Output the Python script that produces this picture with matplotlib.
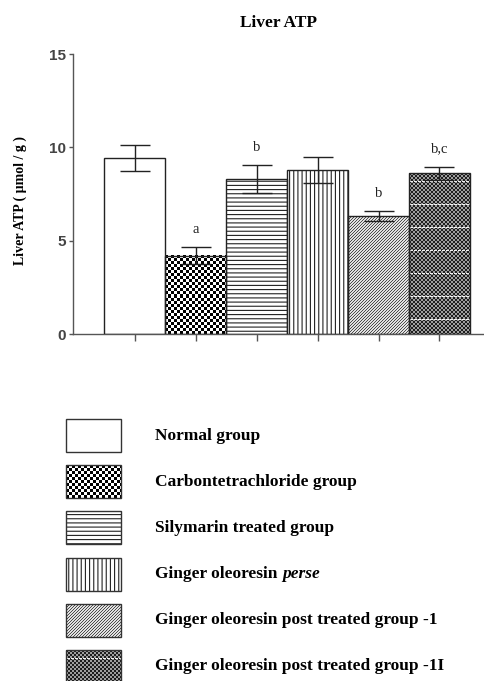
import numpy as np
import matplotlib
matplotlib.use("Agg")
import matplotlib.pyplot as plt
from matplotlib.patches import Rectangle

groups = ["Normal group", "Carbontetrachloride group", "Silymarin treated group",
          "Ginger oleoresin perse", "Ginger oleoresin post treated group -1",
          "Ginger oleoresin post treated group -1I"]
atp_mean = [9.45, 4.2, 8.3, 8.8, 6.3, 8.6]
atp_sem = [0.7, 0.45, 0.75, 0.7, 0.27, 0.35]
sig_labels = ["", "a", "b", "", "b", "b,c"]
fills = ["plain", "checker", "hlines", "vlines", "diag", "dots"]

SERIF = "Liberation Serif"
SANS = "Liberation Sans"


def texture(kind, rows, cols):
    i, j = np.mgrid[0:rows, 0:cols]
    if kind == "checker":
        return ((i // 3 + j // 3) % 2).astype(float)
    if kind == "diag":
        return np.where((i + j) % 3 == 0, 0.3, 0.88)
    if kind == "dots":
        arr = np.where(((i // 2) + (j // 2)) % 2 == 0, 0.12, 0.62)
        arr[(i % 23 == 8) & (j % 4 != 0)] = 0.95
        return arr
    return np.ones((rows, cols))


def fill_patch(ax, patch, kind, x0, x1, y_lo, y_hi, rows, cols, z):
    if kind in ("checker", "diag", "dots"):
        ax.imshow(texture(kind, rows, cols), cmap="gray", vmin=0, vmax=1,
                  extent=(x0, x1, y_lo, y_hi), interpolation="nearest",
                  aspect="auto", clip_path=patch, zorder=z)
    elif kind in ("hlines", "vlines"):
        hatch = "----" if kind == "hlines" else "||||"
        r = Rectangle(patch.get_xy(), patch.get_width(), patch.get_height(),
                      facecolor="none", edgecolor="#222222", linewidth=0,
                      hatch=hatch, zorder=z)
        ax.add_patch(r)


plt.rcParams["hatch.linewidth"] = 0.8
fig = plt.figure(figsize=(4.84, 6.81), dpi=100)
ax = fig.add_axes([73 / 484, 347 / 681, 411 / 484, 280 / 681])
xlim = (-1.01, 5.73)
ylim = (0, 15)
px_x = ax.bbox.width / (xlim[1] - xlim[0])
px_y = ax.bbox.height / (ylim[1] - ylim[0])

x = np.arange(len(groups))
bars = ax.bar(x, atp_mean, width=1.0, color="white", edgecolor="none", zorder=2)
for patch, kind in zip(bars, fills):
    x0, w, h = patch.get_x(), patch.get_width(), patch.get_height()
    fill_patch(ax, patch, kind, x0, x0 + w, 0, h,
               int(round(h * px_y)), int(round(w * px_x)), 2.5)
ax.bar(x, atp_mean, width=1.0, fill=False, edgecolor="#222222", linewidth=1.0, zorder=3)
ax.errorbar(x, atp_mean, yerr=atp_sem, fmt="none", ecolor="#222222",
            elinewidth=1.0, capsize=10.5, capthick=1.0, zorder=4)
for xi, m, s, lab in zip(x, atp_mean, atp_sem, sig_labels):
    if lab:
        ax.annotate(lab, xy=(xi, m + s), xytext=(0, 13), textcoords="offset points",
                    ha="center", va="center", fontsize=10.5, family=SERIF, color="#222222")

ax.set_xlim(*xlim)
ax.set_ylim(*ylim)
ax.set_yticks([0, 5, 10, 15])
ax.set_xticks(x)
ax.set_xticklabels([])
for side in ("top", "right"):
    ax.spines[side].set_visible(False)
for side in ("left", "bottom"):
    ax.spines[side].set_color("#555555")
    ax.spines[side].set_linewidth(1.0)
ax.tick_params(axis="both", direction="out", color="#555555", width=1.0)
ax.tick_params(axis="x", length=5)
ax.tick_params(axis="y", length=3, pad=2)
for t in ax.get_yticklabels():
    t.set_fontfamily(SANS)
    t.set_fontweight("bold")
    t.set_fontsize(11)
    t.set_color("#444444")

fig.text(278 / 484, 1 - 23 / 681, "Liver ATP", ha="center", va="center",
         fontsize=12.5, fontweight="bold", family=SERIF)
fig.text(20 / 484, 1 - 200 / 681, "Liver ATP ( \u00b5mol / g )", rotation=90,
         ha="center", va="center", fontsize=10, fontweight="bold", family=SERIF)

# legend drawn in pixel units
lg = fig.add_axes([0, 0, 1, 281 / 681])
lg.set_xlim(0, 484)
lg.set_ylim(681, 400)
lg.axis("off")
for k, (name, kind) in enumerate(zip(groups, fills)):
    top = 419 + k * 46.2
    box = Rectangle((66, top), 55, 33, facecolor="white", edgecolor="none", zorder=2)
    lg.add_patch(box)
    fill_patch(lg, box, kind, 66, 121, top + 33, top, 33, 55, 2.5)
    lg.add_patch(Rectangle((66, top), 55, 33, fill=False, edgecolor="#333333",
                           linewidth=1.0, zorder=3))
    if name.endswith("perse"):
        t = lg.text(155, top + 16.5, "Ginger oleoresin ", va="center", ha="left",
                    fontsize=12.5, fontweight="bold", family=SERIF)
        lg.annotate("perse", xy=(1, 0), xycoords=t, va="bottom", ha="left",
                    fontsize=12.5, fontweight="bold", fontstyle="italic", family=SERIF)
    else:
        lg.text(155, top + 16.5, name, va="center", ha="left",
                fontsize=12.5, fontweight="bold", family=SERIF)
lg.set_xlim(0, 484)
lg.set_ylim(681, 400)

fig.savefig("out.png", dpi=100)
